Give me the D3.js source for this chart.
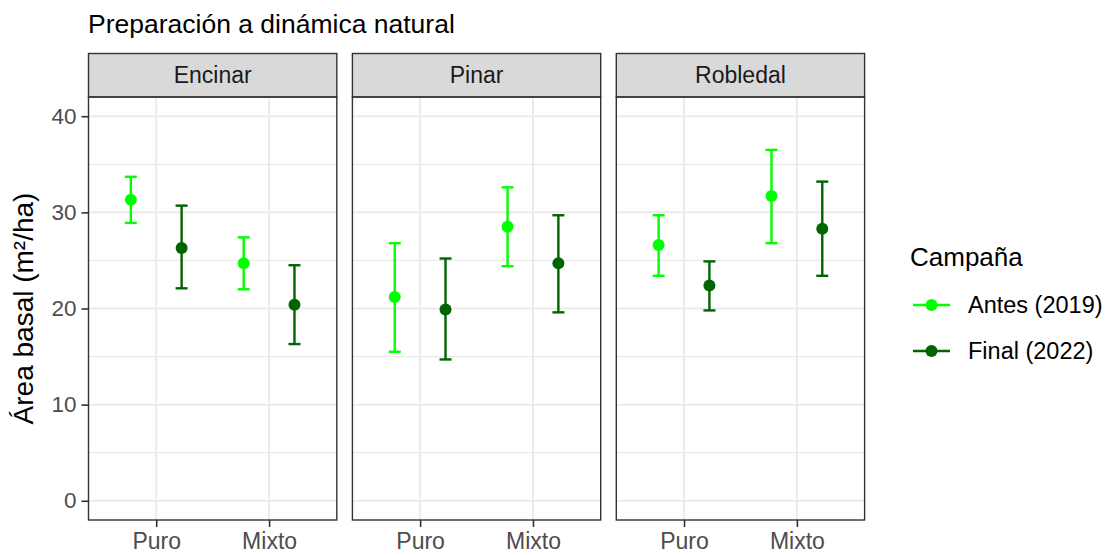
<!DOCTYPE html>
<html>
<head>
<meta charset="utf-8">
<script src="https://cdn.jsdelivr.net/npm/d3@7"></script>
<style>
  html, body { margin: 0; padding: 0; background: #ffffff; }
  svg { display: block; font-family: "Liberation Sans", Arial, sans-serif; }
</style>
</head>
<body>
<svg id="chart" width="1110" height="555"></svg>
<script>
// Facets, categories and campaigns
const forestTypes = ["Encinar", "Pinar", "Robledal"];
const standTypes = ["Puro", "Mixto"];
const campaigns = ["Antes (2019)", "Final (2022)"];
const campaignColors = ["#00ff00", "#006400"];
const yTicks = [0, 10, 20, 30, 40];
const yMinorTicks = [5, 15, 25, 35];

// Mean basal area (m²/ha) with lower / upper interval bounds, per facet and stand type
// order within each array: [Puro, Mixto]
const antesMean  = { Encinar: [31.3, 24.7], Pinar: [21.2, 28.5], Robledal: [26.6, 31.7] };
const antesLow   = { Encinar: [28.9, 22.0], Pinar: [15.5, 24.4], Robledal: [23.4, 26.8] };
const antesHigh  = { Encinar: [33.7, 27.4], Pinar: [26.8, 32.6], Robledal: [29.7, 36.5] };
const finalMean  = { Encinar: [26.3, 20.4], Pinar: [19.9, 24.7], Robledal: [22.4, 28.3] };
const finalLow   = { Encinar: [22.1, 16.3], Pinar: [14.7, 19.6], Robledal: [19.8, 23.4] };
const finalHigh  = { Encinar: [30.7, 24.5], Pinar: [25.2, 29.7], Robledal: [24.9, 33.2] };

const rows = [];
forestTypes.forEach(f => {
  standTypes.forEach((s, i) => {
    rows.push({ facet: f, stand: s, campaign: campaigns[0], mean: antesMean[f][i], low: antesLow[f][i], high: antesHigh[f][i] });
    rows.push({ facet: f, stand: s, campaign: campaigns[1], mean: finalMean[f][i], low: finalLow[f][i], high: finalHigh[f][i] });
  });
});

const svg = d3.select("#chart");

// Layout
const panelTop = 97, panelBottom = 520;
const stripTop = 53.5;
const firstLeft = 88.5, panelW = 248.3, gap = 15.6;

const y = d3.scaleLinear().domain([-2, 42]).range([panelBottom, panelTop]);
const x = d3.scalePoint().domain(standTypes).range([0, panelW]).padding(0.6);
const dodge = d3.scalePoint().domain(campaigns).range([-0.225, 0.225]);
const color = d3.scaleOrdinal().domain(campaigns).range(campaignColors);

// Title
svg.append("text")
  .attr("x", 88).attr("y", 33)
  .attr("font-size", 26.5).attr("fill", "#000")
  .text("Preparación a dinámica natural");

// Y axis title
svg.append("text")
  .attr("transform", `translate(33, ${(panelTop + panelBottom) / 2}) rotate(-90)`)
  .attr("text-anchor", "middle")
  .attr("font-size", 28).attr("fill", "#000")
  .text("Área basal (m²/ha)");

forestTypes.forEach((f, pi) => {
  const left = firstLeft + pi * (panelW + gap);
  const g = svg.append("g").attr("transform", `translate(${left},0)`);

  // grid
  g.selectAll(".minor").data(yMinorTicks).join("line")
    .attr("x1", 0).attr("x2", panelW)
    .attr("y1", d => y(d)).attr("y2", d => y(d))
    .attr("stroke", "#ebebeb").attr("stroke-width", 1.2);
  g.selectAll(".major").data(yTicks).join("line")
    .attr("x1", 0).attr("x2", panelW)
    .attr("y1", d => y(d)).attr("y2", d => y(d))
    .attr("stroke", "#ebebeb").attr("stroke-width", 2);
  g.selectAll(".xgrid").data(standTypes).join("line")
    .attr("x1", d => x(d)).attr("x2", d => x(d))
    .attr("y1", panelTop).attr("y2", panelBottom)
    .attr("stroke", "#ebebeb").attr("stroke-width", 2);

  // strip
  g.append("rect")
    .attr("x", 0).attr("y", stripTop)
    .attr("width", panelW).attr("height", panelTop - stripTop)
    .attr("fill", "#d9d9d9").attr("stroke", "#333333").attr("stroke-width", 1.4);
  g.append("text")
    .attr("x", panelW / 2).attr("y", (stripTop + panelTop) / 2)
    .attr("dy", "0.35em").attr("text-anchor", "middle")
    .attr("font-size", 23).attr("fill", "#1a1a1a")
    .text(f);

  // data
  const step = x.step();
  const data = rows.filter(r => r.facet === f);
  const cx = d => x(d.stand) + dodge(d.campaign) * step;
  const capHalf = 6;

  const eb = g.selectAll(".eb").data(data).join("g");
  eb.append("line")
    .attr("x1", cx).attr("x2", cx)
    .attr("y1", d => y(d.low)).attr("y2", d => y(d.high))
    .attr("stroke", d => color(d.campaign)).attr("stroke-width", 2.4);
  eb.append("line")
    .attr("x1", d => cx(d) - capHalf).attr("x2", d => cx(d) + capHalf)
    .attr("y1", d => y(d.high)).attr("y2", d => y(d.high))
    .attr("stroke", d => color(d.campaign)).attr("stroke-width", 2.4);
  eb.append("line")
    .attr("x1", d => cx(d) - capHalf).attr("x2", d => cx(d) + capHalf)
    .attr("y1", d => y(d.low)).attr("y2", d => y(d.low))
    .attr("stroke", d => color(d.campaign)).attr("stroke-width", 2.4);
  eb.append("circle")
    .attr("cx", cx).attr("cy", d => y(d.mean)).attr("r", 6)
    .attr("fill", d => color(d.campaign));

  // panel border
  g.append("rect")
    .attr("x", 0).attr("y", panelTop)
    .attr("width", panelW).attr("height", panelBottom - panelTop)
    .attr("fill", "none").attr("stroke", "#333333").attr("stroke-width", 1.4);

  // x axis
  const xAxis = g.append("g").attr("transform", `translate(0,${panelBottom})`)
    .call(d3.axisBottom(x).tickSize(7).tickPadding(6));
  xAxis.select(".domain").remove();
  xAxis.selectAll(".tick line").attr("stroke", "#333333").attr("stroke-width", 1.6);
  xAxis.selectAll(".tick text").attr("font-size", 23).attr("fill", "#4d4d4d")
    .attr("font-family", "'Liberation Sans', Arial, sans-serif");

  // y axis on first panel
  if (pi === 0) {
    const yAxis = g.append("g")
      .call(d3.axisLeft(y).tickValues(yTicks).tickSize(7).tickPadding(5));
    yAxis.select(".domain").remove();
    yAxis.selectAll(".tick line").attr("stroke", "#333333").attr("stroke-width", 1.6);
    yAxis.selectAll(".tick text").attr("font-size", 22.5).attr("fill", "#4d4d4d")
      .attr("font-family", "'Liberation Sans', Arial, sans-serif");
  }
});

// Legend
const legend = svg.append("g").attr("transform", "translate(910,0)");
legend.append("text")
  .attr("x", 0).attr("y", 266)
  .attr("font-size", 26).attr("fill", "#000")
  .text("Campaña");
const rowY = [305, 351];
campaigns.forEach((c, i) => {
  const gy = rowY[i];
  legend.append("line")
    .attr("x1", 3).attr("x2", 40).attr("y1", gy).attr("y2", gy)
    .attr("stroke", color(c)).attr("stroke-width", 2.4);
  legend.append("circle")
    .attr("cx", 21.5).attr("cy", gy).attr("r", 6).attr("fill", color(c));
  legend.append("text")
    .attr("x", 58).attr("y", gy).attr("dy", "0.35em")
    .attr("font-size", 23.5).attr("fill", "#000")
    .text(c);
});
</script>
</body>
</html>
